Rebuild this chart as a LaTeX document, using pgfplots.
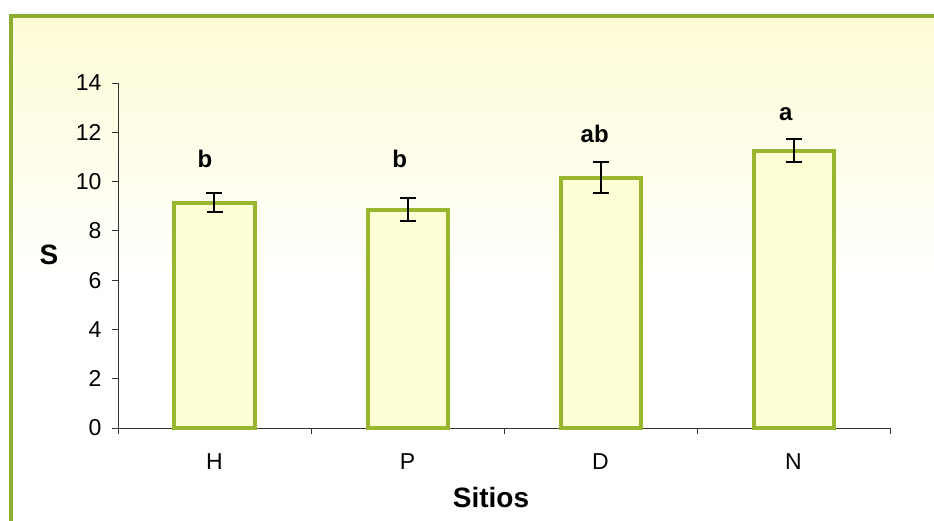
\documentclass[border=0pt]{standalone}
\usepackage{pgfplots}
\pgfplotsset{compat=1.18}
\usepackage{fontspec}
\setmainfont{Liberation Sans}

\definecolor{cream}{RGB}{254,252,214}
\definecolor{barfill}{RGB}{255,255,214}
\definecolor{baredge}{RGB}{152,182,46}
\definecolor{frame}{RGB}{140,172,50}

\pgfplotstableread{
x  S     err
0  9.15  0.37
1  8.85  0.47
2  10.16 0.64
3  11.25 0.47
}\sitios

\begin{document}
\begin{tikzpicture}
  \useasboundingbox (-118pt,-92pt) rectangle (816pt,428pt);
  % page background: white, cream fading in towards the top
  \fill[white] (-118pt,-92pt) rectangle (816pt,428pt);
  \shade[top color=cream, bottom color=white] (-107pt,140pt) rectangle (816pt,412pt);
  % chart frame (top and left edges)
  \draw[frame, line width=4pt] (-107pt,-100pt) -- (-107pt,412pt) -- (830pt,412pt);

  \begin{axis}[
      at={(0pt,0pt)}, anchor=south west,
      width=772pt, height=345pt, scale only axis,
      xmin=-0.5, xmax=3.5, ymin=0, ymax=14,
      axis lines*=left,
      axis line style={black!80, line width=0.8pt},
      clip=false,
      ytick={0,2,...,14},
      xtick={0,1,2,3},
      xticklabels={H,P,D,N},
      minor xtick={-0.5,0.5,1.5,2.5,3.5},
      major x tick style={draw=none},
      tick align=outside,
      major tick length=6pt, minor tick length=6pt,
      tick style={black!80, line width=0.8pt},
      every tick label/.append style={font=\fontsize{23}{27}\selectfont},
      /pgf/number format/assume math mode=true,
      yticklabel style={xshift=-7pt},
      xticklabel style={yshift=-16pt},
    ]
    \addplot[ybar, bar width=80pt, draw=baredge, line width=4pt, fill=barfill,
             error bars/.cd, y dir=both, y explicit,
             error bar style={black, line width=2pt},
             error mark options={rotate=90, mark size=8pt, line width=2pt, black}]
      table[x=x, y=S, y error=err] {\sitios};

    % significance letters
    \begin{scope}[every node/.style={anchor=base, font=\fontsize{24}{28}\selectfont\bfseries}]
      \node at (axis cs:-0.05,10.59) {b};
      \node at (axis cs:0.96,10.59) {b};
      \node at (axis cs:1.97,11.57) {ab};
      \node at (axis cs:2.96,12.46) {a};
    \end{scope}
  \end{axis}

  % axis titles
  \node[font=\fontsize{28}{32}\selectfont\bfseries] at (-69pt,173pt) {S};
  \node[font=\fontsize{28}{32}\selectfont\bfseries] at (373pt,-69pt) {Sitios};
\end{tikzpicture}
\end{document}
